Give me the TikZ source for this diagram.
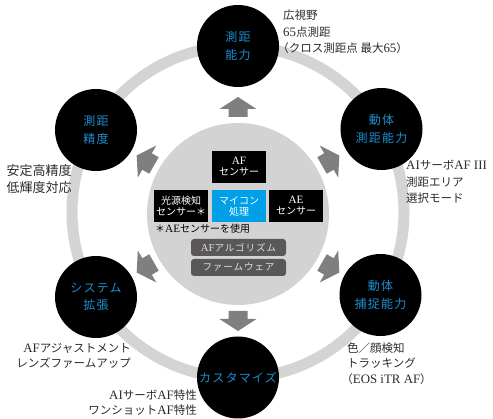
\documentclass[tikz,border=0pt]{standalone}
\usepackage{fontspec}
\setmainfont{Liberation Serif}
\newfontfamily\latf[Scale=1.12]{Liberation Serif}
\newfontfamily\jp{Noto Sans CJK JP}
\newfontfamily\jpsp[LetterSpace=10]{Noto Sans CJK JP}
\newcommand\lat[1]{{\latf #1}}
\newcommand\lp{\kern-0.5em（}
\definecolor{circblue}{HTML}{1B8FD2}
\definecolor{boxblue}{HTML}{00A0E9}
\definecolor{ringgray}{HTML}{D4D4D4}
\definecolor{innergray}{HTML}{D3D3D3}
\definecolor{arrowgray}{HTML}{7F7F7F}
\definecolor{pillgray}{HTML}{595757}
\definecolor{pilltext}{HTML}{E0E0E0}
\definecolor{labtext}{HTML}{2B2B2B}
\tikzset{
  ocirc/.style={circle, fill=black, minimum size=82pt, inner sep=0pt, text=circblue, align=center, font=\jpsp\fontsize{12}{17.5}\selectfont},
  lbl/.style={inner sep=0pt, text=labtext, font=\jp\fontsize{11.5}{16.5}\selectfont},
  lbls/.style={inner sep=0pt, text=labtext, font=\jp\fontsize{11.5}{15.2}\selectfont},
  ibox/.style={fill=black, text=white, minimum width=54pt, minimum height=32pt, inner sep=0pt, align=center, font=\jp\fontsize{10}{11}\selectfont},
  pill/.style={fill=pillgray, rounded corners=3pt, minimum width=95pt, minimum height=17pt, inner sep=0pt, text=pilltext, font=\jpsp\fontsize{9.5}{11}\selectfont},
}
\begin{document}
\begin{tikzpicture}[x=1pt,y=-1pt]
\useasboundingbox (0,0) rectangle (493,419);
% ring
\node[circle, draw=ringgray, line width=11pt, minimum size=332pt, inner sep=0pt] (ring) at (238,212) {};
% core
\node[circle, fill=innergray, minimum size=182pt, inner sep=0pt] (core) at (238,214) {};
% arrows
\foreach \a in {30,90,150,210,270,330}{
  \fill[arrowgray, shift={(238,214)}, rotate=\a]
    (97,-9.5) -- (105,-9.5) -- (105,-18.5) -- (117,0) -- (105,18.5) -- (105,9.5) -- (97,9.5) -- cycle;
}
% outer circles
\node[ocirc] (c1) at (238,46) {測距\\能力};
\node[ocirc] (c2) at (381.5,129) {動体\\測距能力};
\node[ocirc] (c3) at (380.5,295) {動体\\捕捉能力};
\node[ocirc] (c4) at (238,377.5) {カスタマイズ};
\node[ocirc] (c5) at (96,297) {システム\\拡張};
\node[ocirc] (c6) at (96,130) {測距\\精度};
% labels
\node[lbl, anchor=west, align=left] (l1) at (283,32) {広視野\\{\lat{65}}点測距\\\lp クロス測距点 最大{\lat{65}}）};
\node[lbl, anchor=west, align=left] (l2) at (406,182) {{\lat{AI}}サーボ{\lat{AF III}}\\測距エリア\\選択モード};
\node[lbls, anchor=west, align=left] (l3) at (347,363.5) {色／顔検知\\トラッキング\\\lp{\lat{EOS iTR AF}}）};
\node[lbls, anchor=east, align=right] (l4) at (197,403) {{\lat{AI}}サーボ{\lat{AF}}特性\\ワンショット{\lat{AF}}特性};
\node[lbls, anchor=east, align=right] (l5) at (131,355.5) {{\lat{AF}}アジャストメント\\レンズファームアップ};
\node[lbl, anchor=west, align=left, font=\jp\fontsize{13}{16.5}\selectfont] (l6) at (6.5,179) {安定高精度\\低輝度対応};
% inner boxes
\node[ibox] (af) at (239,167) {\lat{AF}\\センサー};
\node[ibox] (light) at (181,206) {光源検知\\センサー＊};
\node[ibox, fill=boxblue] (mc) at (239,206) {マイコン\\処理};
\node[ibox] (ae) at (296,206) {\lat{AE}\\センサー};
\node[inner sep=0pt, anchor=west, text=black, font=\jp\fontsize{10}{11}\selectfont] (note) at (155,228.5) {＊{\lat{AE}}センサーを使用};
\node[pill] (algo) at (238.5,247.5) {{\lat{AF}}アルゴリズム};
\node[pill] (fw) at (238.5,267.5) {ファームウェア};
\end{tikzpicture}
\end{document}
